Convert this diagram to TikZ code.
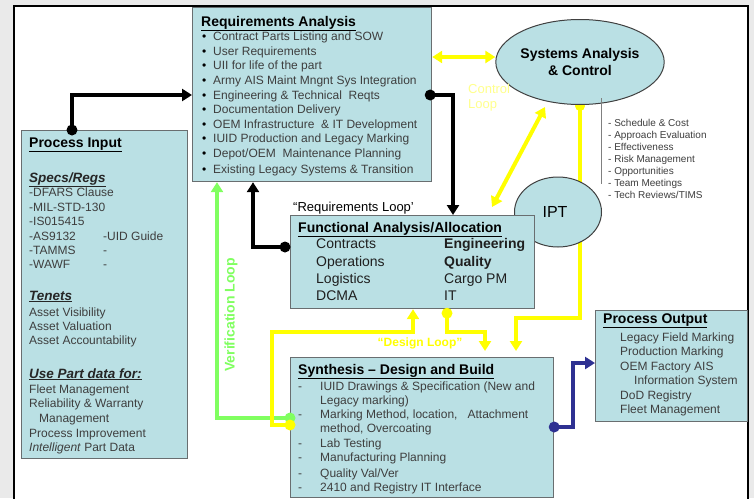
\documentclass[tikz,border=0pt]{standalone}
\usepackage{fontspec}
\setmainfont{Liberation Sans}
\usetikzlibrary{arrows.meta,shapes.geometric,calc}
\definecolor{boxfill}{RGB}{186,224,228}
\definecolor{boxline}{RGB}{105,110,112}
\definecolor{bodygray}{RGB}{62,62,62}
\definecolor{bggray}{RGB}{234,234,234}
\definecolor{ylw}{RGB}{255,255,0}
\definecolor{grn}{RGB}{128,255,96}
\definecolor{blu}{RGB}{46,49,146}
\definecolor{paleylw}{RGB}{255,255,140}
\pgfdeclarelayer{bg}
\pgfsetlayers{bg,main}
\begin{document}
\begin{tikzpicture}[x=1pt,y=-1pt,
  box/.style={draw=boxline,line width=1.2pt,fill=boxfill,inner sep=0pt,anchor=north west},
  oval/.style={ellipse,draw=black!75,line width=1pt,fill=boxfill,inner sep=0pt},
  txt/.style={anchor=base west,inner sep=0pt,text=bodygray,font=\fontsize{12}{14}\selectfont},
  big/.style={anchor=base west,inner sep=0pt,text=black!88,font=\fontsize{14}{16}\selectfont},
  ttl/.style={anchor=base west,inner sep=0pt,text=black,font=\fontsize{14}{16}\selectfont\bfseries},
  sub/.style={anchor=base west,inner sep=0pt,text=black!85,font=\fontsize{13.5}{16}\selectfont\bfseries\itshape},
  sml/.style={anchor=base west,inner sep=0pt,text=bodygray,font=\fontsize{10}{12}\selectfont},
  blk/.style={line width=3.5pt,draw=black},
  yl/.style={line width=4pt,draw=ylw},
  gr/.style={line width=4pt,draw=grn},
  bl/.style={line width=4pt,draw=blu},
  tip/.style={-{Triangle[length=10pt,width=12pt]}},
  dtip/.style={{Triangle[length=10pt,width=12pt]}-{Triangle[length=10pt,width=12pt]}}
]
\useasboundingbox (0,0) rectangle (754,498);
\begin{pgfonlayer}{bg}
  \fill[bggray] (0,0) rectangle (754,498);
  \fill[white] (14,6) rectangle (748,498);
  \draw[line width=2pt] (14,499) -- (14,6) -- (748,6) -- (748,499);
\end{pgfonlayer}

% boxes
\node[box,minimum width=239,minimum height=174] (req) at (192,7) {};
\node[box,minimum width=166,minimum height=328] (pin) at (21,130) {};
\node[oval,minimum width=141,minimum height=85,font=\fontsize{14}{17}\selectfont\bfseries,align=center] (sac) at (580,62) {Systems Analysis\\\& Control};
\node[oval,minimum width=87,minimum height=70,font=\fontsize{16}{18}\selectfont] (ipt) at (558,212) {\hspace*{-6pt}IPT};
\node[box,minimum width=244,minimum height=93] (fa) at (290,215) {};
\node[box,minimum width=263,minimum height=140] (syn) at (290,357) {};
\node[box,minimum width=152,minimum height=111] (pout) at (595,310) {};

% Requirements Analysis
\node[ttl] (reqt) at (201,26) {\underline{Requirements Analysis}};
\foreach \yy/\tt [count=\i] in {40/Contract Parts Listing and SOW,55/User Requirements,69/UII for life of the part,84/Army AIS Maint Mngnt Sys Integration,99/{Engineering \& Technical\ \ Reqts},113/Documentation Delivery,128/{OEM Infrastructure\ \ \& IT Development},142/IUID Production and Legacy Marking,157/{Depot/OEM\ \ Maintenance Planning},173/{Existing Legacy Systems \& Transition}}{
  \node[txt,text=black] (rb\i) at (202,\yy) {•};
  \node[txt] (rl\i) at (213,\yy) {\tt};
}

% Process Input
\node[ttl] (pint) at (29,147) {\underline{Process Input}};
\node[sub] (pis1) at (29,182) {\underline{Specs/Regs}};
\foreach \yy/\tt [count=\i] in {196/-DFARS Clause,211/-MIL-STD-130,225/-IS015415,240/-AS9132,254/-TAMMS,268/-WAWF,316/Asset Visibility,330/Asset Valuation,344/Asset Accountability,393/Fleet Management,407/{Reliability \& Warranty},437/Process Improvement,451/{\textit{Intelligent} Part Data}}{
  \node[txt] (pl\i) at (29,\yy) {\tt};
}
\node[txt] (pm1) at (39,422) {Management};
\node[txt] (pr1) at (103,240) {-UID Guide};
\node[txt] (pr2) at (103,254) {-};
\node[txt] (pr3) at (103,268) {-};
\node[sub] (pis2) at (29,300) {\underline{Tenets}};
\node[sub] (pis3) at (29,378) {\underline{Use Part data for:}};

% Functional Analysis
\node[ttl] (fat) at (298,232) {\underline{Functional Analysis/Allocation}};
\foreach \yy/\ta/\tb [count=\i] in {248/Contracts/\textbf{Engineering},266/Operations/\textbf{Quality},283/Logistics/Cargo PM,300/DCMA/IT}{
  \node[big] (fl\i) at (316,\yy) {\ta};
  \node[big] (fr\i) at (444,\yy) {\tb};
}
\node[anchor=base west,inner sep=0pt,font=\fontsize{13}{15}\selectfont] (rloop) at (293,211) {“Requirements Loop’};

% Synthesis
\node[ttl] (synt) at (298,374) {\underline{Synthesis – Design and Build}};
\foreach \yy/\tt [count=\i] in {390/IUID Drawings \& Specification (New and,404/Legacy marking),418/{Marking Method, location,\ \ \ Attachment},432/{method, Overcoating},447/Lab Testing,461/Manufacturing Planning,477/{Quality Val/Ver},491/2410 and Registry IT Interface}{
  \node[txt] (sl\i) at (320,\yy) {\tt};
}
\foreach \yy [count=\i] in {390,418,447,461,477,491}{
  \node[txt] (sd\i) at (298,\yy) {-};
}

% Process Output
\node[ttl] (pot) at (603,323) {\underline{Process Output}};
\foreach \yy/\tt [count=\i] in {341/Legacy Field Marking,355/Production Marking,370/OEM Factory AIS,399/DoD Registry,413/Fleet Management}{
  \node[txt] (ol\i) at (620,\yy) {\tt};
}
\node[txt] (ol6) at (634,384) {Information System};

% schedule list
\draw[gray,line width=1pt] (601,98) -- (601,184);
\foreach \yy/\tt [count=\i] in {126/{- Schedule \& Cost},138/- Approach Evaluation,150/- Effectiveness,162/- Risk Management,174/- Opportunities,186/- Team Meetings,198/{- Tech Reviews/TIMS}}{
  \node[sml] (sc\i) at (608,\yy) {\tt};
}

% loop labels
\node[anchor=base west,inner sep=0pt,text=paleylw,font=\fontsize{13}{15}\selectfont] (cl1) at (468,93) {Control};
\node[anchor=base west,inner sep=0pt,text=paleylw,font=\fontsize{13}{15}\selectfont] (cl2) at (468,108) {Loop};
\node[rotate=90,inner sep=0pt,text=grn,font=\fontsize{14}{16}\selectfont\bfseries] (vl) at (231,315) {Verification Loop};
\node[inner sep=0pt,text=ylw,font=\fontsize{12}{14}\selectfont\bfseries] (dl) at (420,343) {“Design Loop”};

% connectors
\coordinate (c1) at (72,0 |- pin.north);
\draw[blk,tip] (c1) |- (req.west |- 0,95);
\fill (c1) circle (5.5pt);
\coordinate (c2) at ($(req.east |- 0,95)+(-2,0)$);
\draw[blk,tip] (c2) -| (453,0 |- fa.north);
\fill (c2) circle (5.5pt);
\coordinate (c3) at ($(fa.west |- 0,247)+(-5,0)$);
\draw[blk,tip] (c3) -| (253,0 |- req.south);
\fill (c3) circle (5.5pt);

\coordinate (g1) at (syn.west |- 0,418);
\draw[gr,tip] (g1) -| (217,0 |- req.south);
\fill[grn] (g1) circle (5.5pt);

\coordinate (y1) at (syn.west |- 0,425);
\draw[yl,tip] (y1) -| (272,332) -| (413,0 |- fa.south);
\fill[ylw] (y1) circle (5.5pt);

\coordinate (y2) at ($(447,0 |- fa.south)+(0,4)$);
\draw[yl,tip,shorten >=6pt] (y2) |- (485,332) -- (485,0 |- syn.north);
\fill[ylw] (y2) circle (5.5pt);

\begin{pgfonlayer}{bg}
  \draw[yl,tip,shorten >=6pt] (sac.south) -- (580,318) -| (516,0 |- syn.north);
  \fill[ylw] ($(sac.south)+(0,1)$) circle (5pt);
\end{pgfonlayer}

\draw[yl,dtip] (req.east |- 0,57) -- (sac.west |- 0,57);
\coordinate (d1) at (545,107);
\coordinate (d2) at (492,207);
\draw[yl,dtip] (d1) -- (d2);

\coordinate (b1) at (syn.east |- 0,427);
\draw[bl,tip] (b1) -| (573,363) -- (pout.west |- 0,363);
\fill[blu] (b1) circle (5.5pt);
\end{tikzpicture}
\end{document}
